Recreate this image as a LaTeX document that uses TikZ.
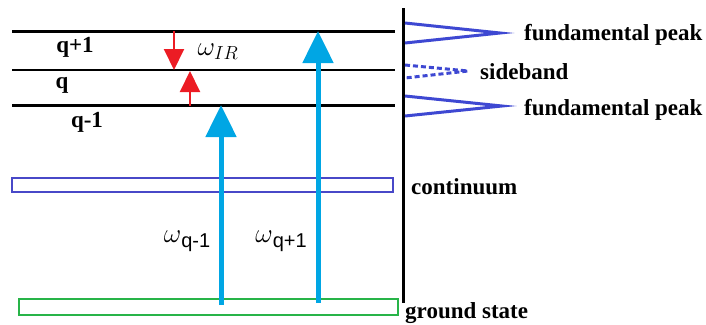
\RequirePackage{fix-cm}
\documentclass[tikz,border=0pt]{standalone}
\usepackage{fontspec}
\setmainfont{Liberation Serif}
\newfontfamily\arialfont{Liberation Sans}
\usetikzlibrary{arrows.meta}

\definecolor{pumpblue}{RGB}{0,166,228}
\definecolor{irred}{RGB}{236,28,36}
\definecolor{peakblue}{RGB}{62,72,210}
\definecolor{contblue}{RGB}{72,72,200}
\definecolor{gsgreen}{RGB}{40,180,72}

\tikzset{
    level/.style={line width=3pt, black},
    pump/.style={line width=5pt, pumpblue, -{Triangle[length=32pt,width=30pt]}},
    irarrow/.style={line width=2pt, irred, -{Triangle[length=21pt,width=20pt]}},
    peak/.style={line width=3pt, peakblue},
    lab/.style={font=\bfseries\fontsize{23}{27}\selectfont, inner sep=0pt},
    omlab/.style={font=\fontsize{27}{31}\selectfont, inner sep=0pt},
}

\begin{document}
\begin{tikzpicture}[x=1pt, y=-1pt]
    \useasboundingbox (0,0) rectangle (706,324);

    % ==========================================
    % Harmonic levels
    % ==========================================
    \coordinate (qpT) at (318,31);
    \coordinate (qT)  at (174,70);
    \coordinate (qmT) at (221,105);
    \draw[level] (12,31) -- (395,31);
    \draw[level, line width=2pt] (12,70) -- (395,70);
    \draw[level] (12,105) -- (395,105);

    \node[lab] (qplus)  at (75,47)  {q+1};
    \node[lab] (qmid)   at (62,85)  {q};
    \node[lab] (qminus) at (87,122) {q-1};

    % Continuum and ground state
    \draw[contblue, line width=2pt] (12,178) rectangle (393,192);
    \draw[gsgreen, line width=2pt] (19,299) rectangle (398,315);

    % ==========================================
    % Spectrum axis and peaks
    % ==========================================
    \draw[line width=3pt] (403,8) -- (403,303);
    \draw[peak] (405,23) -- (500,33) -- (405,43);
    \draw[peak, dash pattern=on 5pt off 3pt] (405,65) -- (468,71) -- (405,78);
    \draw[peak] (405,96) -- (502,106) -- (405,116);

    \node[lab, anchor=west] (fpup)  at (524,35)  {fundamental peak};
    \node[lab, anchor=west] (sideb) at (480,72)  {sideband};
    \node[lab, anchor=west] (fplow) at (524,110) {fundamental peak};
    \node[lab, anchor=west] (cont)  at (411,187) {continuum};
    \node[lab, anchor=west] (gs)    at (405,313) {ground state};

    % ==========================================
    % Pump photons
    % ==========================================
    \coordinate (gsA) at (221,305);
    \coordinate (gsB) at (318,303);
    \draw[pump] (gsA) -- (qmT);
    \draw[pump] (gsB) -- (qpT);
    \node[omlab] (wqm) at (187,241) {$\omega$\raisebox{-0.4ex}{\arialfont\fontsize{20}{24}\selectfont q-1}};
    \node[omlab] (wqp) at (281,241) {$\omega$\raisebox{-0.4ex}{\arialfont\fontsize{20}{24}\selectfont q+1}};

    % ==========================================
    % IR photons
    % ==========================================
    \coordinate (irA) at (174,31);
    \coordinate (irB) at (190,106);
    \coordinate (irBT) at (190,71);
    \draw[irarrow] (irA) -- (qT);
    \draw[irarrow] (irB) -- (irBT);
    \node[omlab] (wir) at (218,52) {$\omega_{IR}$};
\end{tikzpicture}
\end{document}
